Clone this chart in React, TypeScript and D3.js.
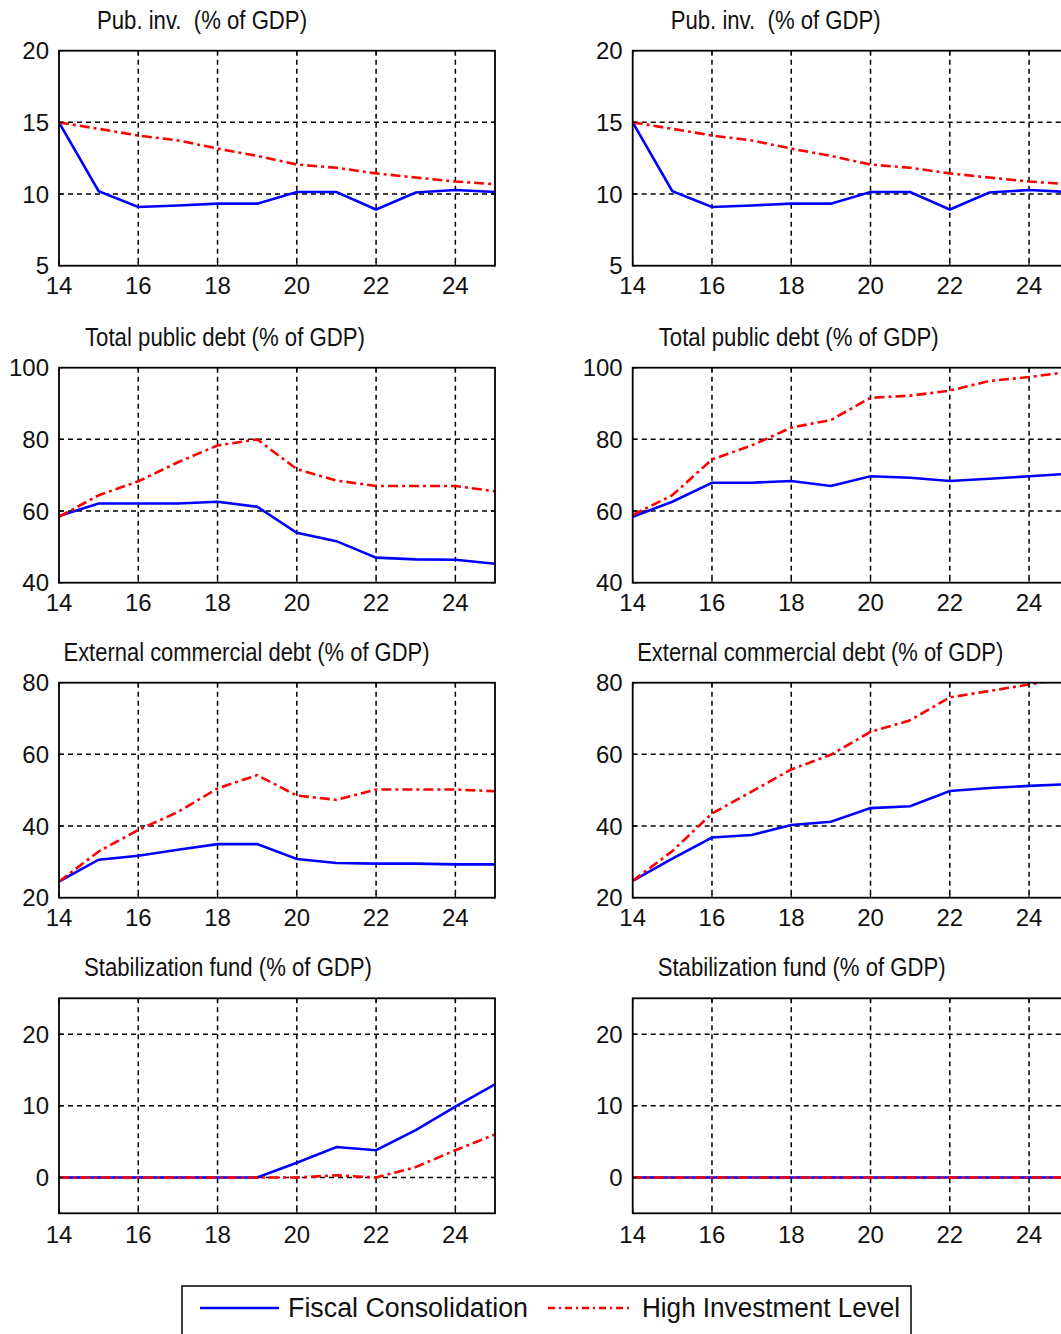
import React from 'react';
import * as d3 from 'd3';

// years on the x axis (20xx)
const years = [14, 15, 16, 17, 18, 19, 20, 21, 22, 23, 24, 25];
const xTicks = [14, 16, 18, 20, 22, 24];

const titles = [
  'Pub. inv.  (% of GDP)',
  'Total public debt (% of GDP)',
  'External commercial debt (% of GDP)',
  'Stabilization fund (% of GDP)'
];

const yDomains: [number, number][] = [[5, 20], [40, 100], [20, 80], [-5, 25]];
const yTicks = [[5, 10, 15, 20], [40, 60, 80, 100], [20, 40, 60, 80], [0, 10, 20]];
const yLabels = [['5', '10', '15', '20'], ['40', '60', '80', '100'], ['20', '40', '60', '80'], ['0', '10', '20']];

// left column
const pubInvFiscalL = [15, 10.2, 9.1, 9.2, 9.33, 9.33, 10.14, 10.14, 8.92, 10.11, 10.28, 10.14];
const pubInvHighL = [15, 14.55, 14.08, 13.74, 13.17, 12.66, 12.06, 11.83, 11.44, 11.15, 10.87, 10.69];
const debtFiscalL = [58.6, 62.1, 62.1, 62.1, 62.6, 61.2, 53.9, 51.6, 47.0, 46.5, 46.4, 45.3];
const debtHighL = [58.4, 64.4, 68.3, 73.6, 78.3, 80.0, 71.7, 68.5, 67.0, 67.0, 67.0, 65.5];
const extFiscalL = [24.5, 30.6, 31.7, 33.4, 34.95, 34.95, 30.8, 29.7, 29.5, 29.5, 29.3, 29.3];
const extHighL = [24.5, 32.9, 38.9, 43.9, 50.5, 54.2, 48.5, 47.3, 50.2, 50.2, 50.2, 49.7];
const fundFiscalL = [0, 0, 0, 0, 0, 0, 2.06, 4.25, 3.8, 6.6, 9.9, 13.0];
const fundHighL = [0, 0, 0, 0, 0, 0, 0, 0.3, 0, 1.45, 3.8, 6.0];

// right column
const pubInvFiscalR = [15, 10.2, 9.1, 9.2, 9.33, 9.33, 10.14, 10.14, 8.92, 10.11, 10.28, 10.14];
const pubInvHighR = [15, 14.55, 14.08, 13.74, 13.17, 12.66, 12.06, 11.83, 11.44, 11.15, 10.87, 10.69];
const debtFiscalR = [58.4, 62.6, 67.9, 67.9, 68.4, 67.0, 69.7, 69.3, 68.4, 69.0, 69.7, 70.4];
const debtHighR = [58.9, 64.4, 74.4, 78.3, 83.3, 85.4, 91.6, 92.2, 93.6, 96.3, 97.4, 98.8];
const extFiscalR = [24.7, 30.9, 36.8, 37.5, 40.3, 41.2, 45.0, 45.5, 49.8, 50.6, 51.2, 51.7];
const extHighR = [24.7, 33.0, 43.5, 49.6, 55.8, 59.9, 66.3, 69.5, 75.9, 77.7, 79.5, 81.5];
const fundFiscalR = [0, 0, 0, 0, 0, 0, 0, 0, 0, 0, 0, 0];
const fundHighR = [0, 0, 0, 0, 0, 0, 0, 0, 0, 0, 0, 0];

const fiscal = [[pubInvFiscalL, debtFiscalL, extFiscalL, fundFiscalL], [pubInvFiscalR, debtFiscalR, extFiscalR, fundFiscalR]];
const high = [[pubInvHighL, debtHighL, extHighL, fundHighL], [pubInvHighR, debtHighR, extHighR, fundHighR]];

const legendLabels = ['Fiscal Consolidation', 'High Investment Level'];

// layout
const W = 1061;
const H = 1334;
const colLeft = [59, 632.7];
const plotW = 436;
const rowTop = [50.7, 367.7, 682.7, 998.3];
const plotH = 215;
const titleCenter = [143, 166, 187.5, 169];
const titleWidth = [210, 280, 366, 288];
const font = '"Liberation Sans", Arial, sans-serif';
const blue = '#0000ff';
const red = '#ff0000';

const Panel = ({ row, col }: { row: number; col: number }) => {
  const left = colLeft[col];
  const top = rowTop[row];
  const x = d3.scaleLinear().domain([14, 25]).range([left, left + plotW]);
  const y = d3.scaleLinear().domain(yDomains[row]).range([top + plotH, top]);
  const line = d3.line<number>().x((_, i) => x(years[i])).y(d => y(d));
  const clipId = `clip-${row}-${col}`;
  const bottom = top + plotH;
  const xLabelOffset = row === 3 ? 29.5 : 28.5;

  return (
    <g>
      <defs>
        <clipPath id={clipId}>
          <rect x={left} y={top} width={plotW} height={plotH} />
        </clipPath>
      </defs>
      <text x={left + titleCenter[row]} y={top - 22} textAnchor="middle" fontSize={25}
        textLength={titleWidth[row]} lengthAdjust="spacingAndGlyphs"
        fontFamily={font} fill="#111" style={{ whiteSpace: 'pre' }}>{titles[row]}</text>
      {/* grid */}
      {xTicks.slice(1).map(t => (
        <line key={`gx${t}`} x1={x(t)} x2={x(t)} y1={top} y2={bottom}
          stroke="#000" strokeWidth={1.5} strokeDasharray="5,4" />
      ))}
      {yTicks[row].filter(t => t > yDomains[row][0] && t < yDomains[row][1]).map(t => (
        <line key={`gy${t}`} x1={left} x2={left + plotW} y1={y(t)} y2={y(t)}
          stroke="#000" strokeWidth={1.5} strokeDasharray="5,4" />
      ))}
      {/* series */}
      <g clipPath={`url(#${clipId})`}>
        <path d={line(fiscal[col][row]) || ''} fill="none" stroke={blue} strokeWidth={2.6} />
        <path d={line(high[col][row]) || ''} fill="none" stroke={red} strokeWidth={2.6}
          strokeDasharray="10,4,3,4" />
      </g>
      {/* box and ticks */}
      <rect x={left} y={top} width={plotW} height={plotH} fill="none" stroke="#000" strokeWidth={1.8} />
      {xTicks.map(t => (
        <g key={`tx${t}`}>
          <line x1={x(t)} x2={x(t)} y1={bottom} y2={bottom - 4} stroke="#000" strokeWidth={1.2} />
          <line x1={x(t)} x2={x(t)} y1={top} y2={top + 4} stroke="#000" strokeWidth={1.2} />
          <text x={x(t)} y={bottom + xLabelOffset} textAnchor="middle" fontSize={24} fontFamily={font} fill="#111">{t}</text>
        </g>
      ))}
      {yTicks[row].map((t, i) => (
        <g key={`ty${t}`}>
          <line x1={left} x2={left + 4} y1={y(t)} y2={y(t)} stroke="#000" strokeWidth={1.2} />
          <line x1={left + plotW} x2={left + plotW - 4} y1={y(t)} y2={y(t)} stroke="#000" strokeWidth={1.2} />
          <text x={left - 10} y={y(t)} dy="0.36em" textAnchor="end" fontSize={24} fontFamily={font} fill="#111">{yLabels[row][i]}</text>
        </g>
      ))}
    </g>
  );
};

export default function App() {
  return (
    <svg width={W} height={H} style={{ position: 'absolute', left: 0, top: 0, background: '#fff' }}>
      <rect x={0} y={0} width={W} height={H} fill="#fff" />
      {[0, 1, 2, 3].map(r => [0, 1].map(c => <Panel key={`${r}-${c}`} row={r} col={c} />))}
      {/* legend */}
      <g>
        <rect x={182} y={1286} width={729} height={60} fill="#fff" stroke="#000" strokeWidth={1.5} />
        <line x1={200} x2={279} y1={1308} y2={1308} stroke={blue} strokeWidth={2.6} />
        <text x={288} y={1317} fontSize={27} textLength={240} lengthAdjust="spacingAndGlyphs"
          fontFamily={font} fill="#111">{legendLabels[0]}</text>
        <line x1={548} x2={630} y1={1308} y2={1308} stroke={red} strokeWidth={2.6} strokeDasharray="7,4,2,4" />
        <text x={642} y={1317} fontSize={27} textLength={258} lengthAdjust="spacingAndGlyphs"
          fontFamily={font} fill="#111">{legendLabels[1]}</text>
      </g>
    </svg>
  );
}
